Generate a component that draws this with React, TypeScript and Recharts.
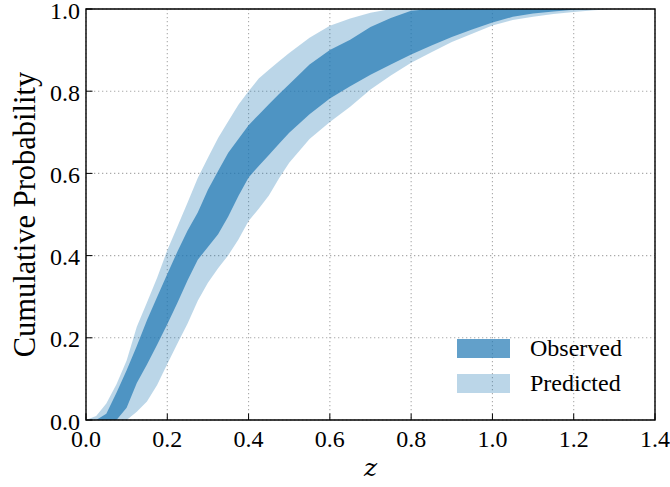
import React from 'react';
import { ComposedChart, Area, XAxis, YAxis, CartesianGrid, ReferenceArea, Legend } from 'recharts';

const zValues = [0, 0.025, 0.05, 0.075, 0.1, 0.125, 0.15, 0.175, 0.2, 0.225, 0.25, 0.275, 0.3, 0.325, 0.35, 0.375, 0.4, 0.425, 0.45, 0.475, 0.5, 0.55, 0.6, 0.65, 0.7, 0.75, 0.8, 0.85, 0.9, 0.95, 1.0, 1.05, 1.1, 1.15, 1.2, 1.25, 1.3, 1.35, 1.4];
const predLow = [0, 0, 0, 0, 0, 0.02, 0.045, 0.085, 0.136, 0.186, 0.235, 0.29, 0.334, 0.369, 0.401, 0.439, 0.484, 0.514, 0.546, 0.588, 0.626, 0.684, 0.725, 0.762, 0.804, 0.838, 0.869, 0.895, 0.92, 0.94, 0.96, 0.973, 0.981, 0.988, 0.993, 0.997, 1, 1, 1];
const predHigh = [0, 0.01, 0.04, 0.087, 0.145, 0.227, 0.286, 0.346, 0.413, 0.471, 0.529, 0.589, 0.638, 0.686, 0.727, 0.767, 0.8, 0.831, 0.852, 0.873, 0.893, 0.93, 0.959, 0.977, 0.991, 1, 1, 1, 1, 1, 1, 1, 1, 1, 1, 1, 1, 1, 1];
const obsLow = [0, 0, 0, 0, 0.03, 0.09, 0.135, 0.183, 0.233, 0.285, 0.34, 0.39, 0.421, 0.452, 0.495, 0.545, 0.59, 0.618, 0.645, 0.672, 0.699, 0.744, 0.782, 0.812, 0.84, 0.865, 0.889, 0.911, 0.932, 0.95, 0.967, 0.981, 0.989, 0.994, 0.998, 1, 1, 1, 1];
const obsHigh = [0, 0, 0.015, 0.066, 0.121, 0.18, 0.243, 0.299, 0.355, 0.41, 0.461, 0.505, 0.56, 0.606, 0.65, 0.684, 0.717, 0.743, 0.768, 0.793, 0.817, 0.865, 0.9, 0.925, 0.956, 0.978, 0.996, 1, 1, 1, 1, 1, 1, 1, 1, 1, 1, 1, 1];

const xTicks = [0, 0.2, 0.4, 0.6, 0.8, 1.0, 1.2, 1.4];
const yTicks = [0, 0.2, 0.4, 0.6, 0.8, 1.0];
const legendItems = [
  { label: 'Observed', opacity: 0.7 },
  { label: 'Predicted', opacity: 0.3 },
];

const BLUE = '#1f77b4';
const FONT = '"Liberation Serif", "Times New Roman", serif';
const ITALIC_FONT = '"DejaVu Serif", "Liberation Serif", serif';

const data = zValues.map((z, i) => ({
  z,
  pred: [predLow[i], predHigh[i]],
  obs: [obsLow[i], obsHigh[i]],
}));

const XTick = (props: any) => {
  const { x, y, payload } = props;
  return (
    <g>
      <line x1={x} x2={x} y1={y} y2={y - 6.5} stroke="#000" strokeWidth={1} />
      <text x={x} y={y + 27} textAnchor="middle" fontFamily={FONT} fontSize={24} fill="#000">
        {Number(payload.value).toFixed(1)}
      </text>
    </g>
  );
};

const YTick = (props: any) => {
  const { x, y, payload } = props;
  return (
    <g>
      <line x1={x} x2={x + 6.5} y1={y} y2={y} stroke="#000" strokeWidth={1} />
      <text x={x - 6} y={y + 9.5} textAnchor="end" fontFamily={FONT} fontSize={24} fill="#000">
        {Number(payload.value).toFixed(1)}
      </text>
    </g>
  );
};

const renderLegend = () => (
  <div style={{ fontFamily: FONT, fontSize: 24, color: '#000' }}>
    {legendItems.map((it) => (
      <div key={it.label} style={{ display: 'flex', alignItems: 'center', height: 35 }}>
        <div style={{ width: 53, height: 19, background: `rgba(31,119,180,${it.opacity})`, marginRight: 20 }} />
        <span style={{ lineHeight: '25px' }}>{it.label}</span>
      </div>
    ))}
  </div>
);

export default function App() {
  return (
    <div style={{ position: 'absolute', left: 0, top: 0, width: 670, height: 487, background: '#fff' }}>
      <ComposedChart width={670} height={487} data={data} margin={{ top: 9, right: 15, left: 0, bottom: 0 }}>
        <CartesianGrid stroke="#aaaaaa" strokeDasharray="1.3 2.7" strokeWidth={1.1} horizontalValues={yTicks} verticalValues={xTicks} />
        <XAxis
          dataKey="z"
          type="number"
          domain={[0, 1.4]}
          ticks={xTicks}
          interval={0}
          height={67}
          tickSize={0}
          tickMargin={0}
          axisLine={false}
          tickLine={false}
          tick={<XTick />}
          label={(p: any) => {
            const vb = p.viewBox;
            return (
              <text x={vb.x + vb.width / 2} y={vb.y + 56} textAnchor="middle" fontFamily={ITALIC_FONT} fontStyle="italic" style={{ fontStyle: 'italic' }} fontSize={25} fill="#000">
                z
              </text>
            );
          }}
        />
        <YAxis
          type="number"
          domain={[0, 1]}
          ticks={yTicks}
          interval={0}
          width={86}
          tickSize={0}
          tickMargin={0}
          axisLine={false}
          tickLine={false}
          tick={<YTick />}
          label={(p: any) => {
            const vb = p.viewBox;
            const cx = 35;
            const cy = vb.y + vb.height / 2;
            return (
              <text x={cx} y={cy} transform={`rotate(-90, ${cx}, ${cy})`} textAnchor="middle" fontFamily={FONT} fontSize={30.5} fill="#000">
                Cumulative Probability
              </text>
            );
          }}
        />
        <Area type="linear" dataKey="pred" stroke="none" fill={BLUE} fillOpacity={0.3} isAnimationActive={false} name="Predicted" />
        <Area type="linear" dataKey="obs" stroke="none" fill={BLUE} fillOpacity={0.7} isAnimationActive={false} name="Observed" />
        <ReferenceArea x1={0} x2={1.4} y1={0} y2={1} fill="none" stroke="#000" strokeWidth={1.4} />
        <Legend
          layout="vertical"
          align="center"
          verticalAlign="middle"
          content={renderLegend}
          wrapperStyle={{ left: 457, top: 331, width: 200 }}
        />
      </ComposedChart>
    </div>
  );
}
